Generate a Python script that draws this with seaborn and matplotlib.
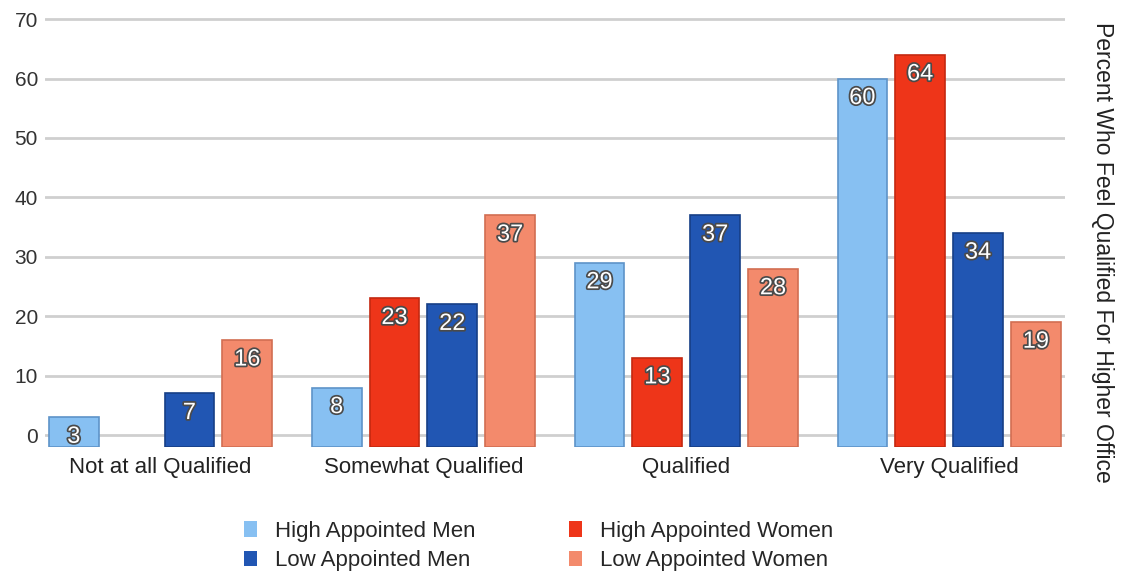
import matplotlib
matplotlib.use("Agg")
import matplotlib.pyplot as plt
import matplotlib.patheffects as pe
import seaborn as sns
import pandas as pd

categories = ["Not at all Qualified", "Somewhat Qualified", "Qualified", "Very Qualified"]
series = ["High Appointed Men", "High Appointed Women", "Low Appointed Men", "Low Appointed Women"]
high_men = [3, 8, 29, 60]
high_women = [None, 23, 13, 64]
low_men = [7, 22, 37, 34]
low_women = [16, 37, 28, 19]
yticks = [0, 10, 20, 30, 40, 50, 60, 70]

colors = {"High Appointed Men": "#87C0F2",
          "High Appointed Women": "#EE3519",
          "Low Appointed Men": "#2156B3",
          "Low Appointed Women": "#F38A6C"}
edge_colors = {"High Appointed Men": "#5E93C8",
               "High Appointed Women": "#C42810",
               "Low Appointed Men": "#173F86",
               "Low Appointed Women": "#D26E52"}

rows = []
for s, vals in zip(series, [high_men, high_women, low_men, low_women]):
    for c, v in zip(categories, vals):
        if v is not None:
            rows.append({"Category": c, "Series": s, "Value": v})
df = pd.DataFrame(rows)

sns.set_theme(style="white")
plt.rcParams["font.family"] = ["Liberation Sans", "DejaVu Sans"]

fig = plt.figure(figsize=(11.22, 5.76), dpi=100)
ax = fig.add_axes([0.04, 0.224, 0.909, 0.748])

sns.barplot(data=df, x="Category", y="Value", hue="Series", order=categories,
            hue_order=series, palette=colors, width=0.88, ax=ax, errorbar=None,
            edgecolor="none", saturation=1, legend=True, zorder=3)

floor = -2.0
for cont, s in zip(ax.containers, series):
    for bar in cont:
        w = bar.get_width()
        bar.set_x(bar.get_x() + w * 0.07)
        bar.set_width(w * 0.86)
        h = bar.get_height()
        bar.set_y(floor)
        bar.set_height(h - floor)
        bar.set_edgecolor(edge_colors[s])
        bar.set_linewidth(1.2)

for cont in ax.containers:
    labels = ax.bar_label(cont, padding=-22, color="white", fontsize=17)
    for t in labels:
        t.set_path_effects([pe.withStroke(linewidth=2.5, foreground="#4A4A4A")])
        t.set_zorder(5)

ax.set_xlim(-0.44, 3.44)
ax.set_ylim(-2, 70.5)
ax.set_yticks(yticks)
ax.set_yticklabels([str(t) for t in yticks], fontsize=15, color="#333333")
ax.tick_params(axis="y", length=0, pad=5)
ax.tick_params(axis="x", length=0, pad=7, labelsize=16, labelcolor="#222222")
ax.set_xlabel("")
ax.set_ylabel("")
ax.yaxis.grid(True, color="#CFCFCF", linewidth=2, zorder=0)
ax.xaxis.grid(False)
for sp in ax.spines.values():
    sp.set_visible(False)

fig.text(0.983, 0.5625, "Percent Who Feel Qualified For Higher Office", rotation=-90,
         ha="center", va="center", fontsize=16.5, color="#222222")

handles, labs = ax.get_legend_handles_labels()
ax.get_legend().remove()
order = [0, 2, 1, 3]
fig.legend([handles[i] for i in order], [labs[i] for i in order], ncol=2,
           loc="center", bbox_to_anchor=(0.48, 0.052), frameon=False,
           fontsize=16, handlelength=0.6, handleheight=0.7,
           columnspacing=4.2, labelspacing=0.4, handletextpad=0.8)

fig.savefig("out.png", dpi=100)
